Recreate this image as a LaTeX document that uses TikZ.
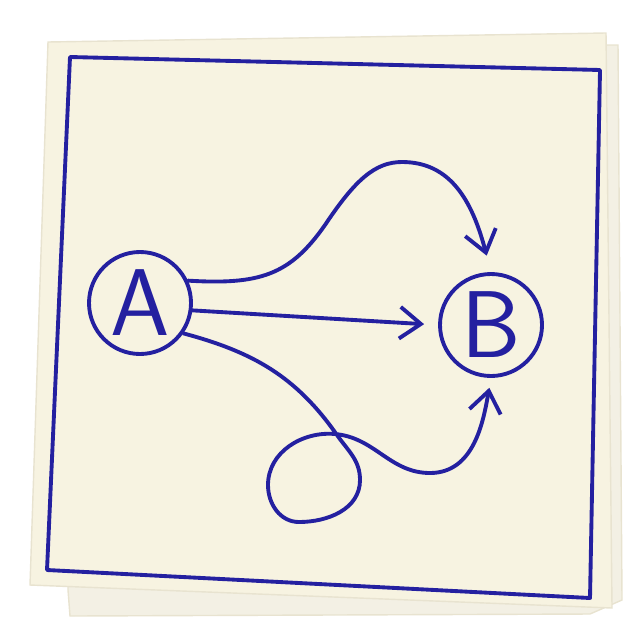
\documentclass[tikz,border=0pt]{standalone}
\usetikzlibrary{arrows.meta}

\definecolor{ink}{RGB}{36,32,160}
\definecolor{napkin}{RGB}{247,243,225}
\definecolor{napkinback}{RGB}{243,240,228}
\definecolor{napkinedge}{RGB}{232,227,208}

\begin{document}
\begin{tikzpicture}[>={Straight Barb[length=6pt,width=9pt]},
    pen/.style={draw=ink,line width=1.1pt,line cap=round,line join=round},
    spot/.style={circle,pen,minimum size=1.02cm,inner sep=0pt,
        font=\sffamily\fontsize{27}{30}\selectfont,text=ink}]

\useasboundingbox (0,0) rectangle (6.36,6.20);

% 餐巾纸（两层）
\fill[napkinback,draw=napkinedge,line width=0.4pt]
    (0.60,5.75) -- (6.18,5.75) -- (6.22,0.20) -- (5.90,0.06)
    -- (0.70,0.04) -- (0.68,0.30) -- cycle;
\fill[napkin,draw=napkinedge,line width=0.4pt]
    (0.48,5.78) -- (6.06,5.87) -- (6.12,0.12) -- (0.30,0.35) -- cycle;

% 手画的边框
\draw[pen] (0.70,5.63) -- (6.00,5.50) -- (5.90,0.22) -- (0.47,0.50) -- cycle;

% 起点 A 和终点 B
\node[spot] (A) at (1.40,3.17) {A};
\node[spot] (B) at (4.91,2.95) {B};

% 三条从 A 到 B 的路
\draw[pen,->,shorten >=0.17cm] (A.25)
    .. controls (2.6,3.35) and (2.9,3.45) .. (3.25,3.95)
    .. controls (3.55,4.40) and (3.75,4.58) .. (4.02,4.58)
    .. controls (4.50,4.58) and (4.72,4.20) .. (B.north);  % 绕上面
\draw[pen,->,shorten >=0.14cm] (A.-8) -- (B.west);        % 直走
\draw[pen,->,shorten >=0.10cm] (A.-35)
    to[out=-15,in=125] (3.37,1.85)
    to[out=-55,in=90] (3.60,1.40)
    to[out=-90,in=0] (2.99,0.98)
    to[out=180,in=-90] (2.68,1.35)
    to[out=90,in=175] (3.35,1.86)
    to[out=-5,in=180] (4.30,1.47)
    to[out=0,in=-100] (B.south);                         % 绕个圈

\end{tikzpicture}
\end{document}
